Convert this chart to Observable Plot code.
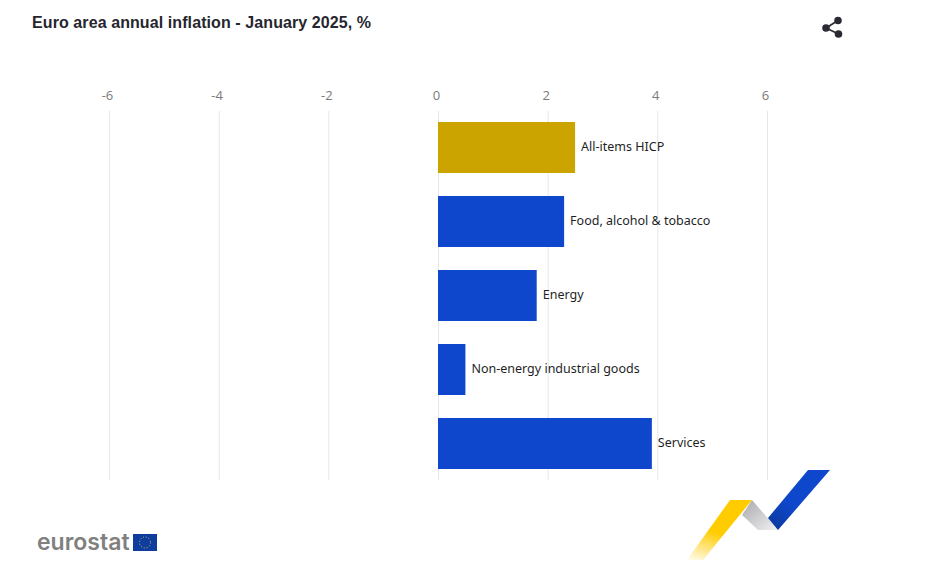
<!DOCTYPE html>
<html>
<head>
<meta charset="utf-8">
<script src="https://cdn.jsdelivr.net/npm/d3@7"></script>
<script src="https://cdn.jsdelivr.net/npm/@observablehq/plot@0.6"></script>
<style>
html,body{margin:0;padding:0;background:#fff;width:941px;height:573px;overflow:hidden}
#wrap{position:relative;width:941px;height:573px}
#title{position:absolute;left:32px;top:14px;font:bold 16px "Liberation Sans",Arial,sans-serif;letter-spacing:0.09px;color:#26262e;white-space:nowrap}
#brand{position:absolute;left:37px;top:528px;font:600 23px Inter,"Liberation Sans",sans-serif;color:#808080;letter-spacing:0px;line-height:28px}
.deco{position:absolute;left:0;top:0}
</style>
</head>
<body>
<div id="wrap">
<div id="chart"></div>
<div id="title">Euro area annual inflation - January 2025, %</div>
<svg class="deco" width="941" height="573" aria-hidden="true">
  <defs>
    <linearGradient id="fade" x1="0" y1="1" x2="0.35" y2="0">
      <stop offset="0" stop-color="#ffcc00" stop-opacity="0.05"/>
      <stop offset="0.55" stop-color="#ffcc00"/>
    </linearGradient>
    <linearGradient id="grey" x1="0" y1="0" x2="1" y2="1">
      <stop offset="0" stop-color="#a9a9ad"/>
      <stop offset="1" stop-color="#f1f1f4"/>
    </linearGradient>
    <linearGradient id="blue" x1="0" y1="1" x2="0.6" y2="0.3">
      <stop offset="0" stop-color="#0a3796"/>
      <stop offset="0.6" stop-color="#0e47cb"/>
    </linearGradient>
  </defs>
  <polygon points="687,560 703,560 752,500 730,500" fill="url(#fade)"/>
  <polygon points="752,500 778,530 758,530 742,515" fill="url(#grey)"/>
  <polygon points="808,470 830,470 778,530 768,518" fill="url(#blue)"/>
  <rect x="133" y="534" width="24" height="17" fill="#0f3d9e"/>
  <circle cx="145" cy="542.5" r="5.5" fill="none" stroke="#c9bd5a" stroke-width="1" stroke-dasharray="1 1.9"/>
  <g stroke="#2a2a33" stroke-width="1.6" fill="#2a2a33">
    <line x1="826" y1="28" x2="838" y2="20.5"/>
    <line x1="826" y1="28" x2="838.5" y2="34"/>
    <circle cx="826" cy="28" r="3"/>
    <circle cx="838" cy="20.5" r="3"/>
    <circle cx="838.5" cy="34" r="3"/>
  </g>
</svg>
<div id="brand">eurostat</div>
</div>
<script>
const categories = ["All-items HICP", "Food, alcohol & tobacco", "Energy", "Non-energy industrial goods", "Services"];
const values = [2.5, 2.3, 1.8, 0.5, 3.9];
const groups = ["total", "part", "part", "part", "part"];
const tickValues = [-6, -4, -2, 0, 2, 4, 6];
const rows = categories.map((name, i) => ({name, value: values[i], group: groups[i]}));

const chart = Plot.plot({
  width: 941,
  height: 573,
  marginTop: 111,
  marginBottom: 92,
  marginLeft: 109,
  marginRight: 174,
  style: {background: "transparent", overflow: "visible"},
  x: {domain: [-6, 6], axis: null},
  y: {domain: categories, paddingInner: 0.31, paddingOuter: 0.155, align: 0.5, axis: null},
  color: {domain: ["total", "part"], range: ["#cca400", "#0e47cb"]},
  marks: [
    Plot.ruleX(tickValues, {x: d => d, stroke: "#e6e6ea", strokeWidth: 1, insetBottom: 1}),
    Plot.axisX(tickValues, {
      anchor: "top",
      tickSize: 0,
      tickPadding: 12,
      dx: -2,
      label: null,
      tickFormat: d => d < 0 ? "-" + Math.abs(d) : String(d),
      fill: "#7a7a7a",
      fontSize: 13,
      fontFamily: "'Open Sans',sans-serif"
    }),
    Plot.barX(rows, {y: "name", x1: 0, x2: "value", fill: "group"}),
    Plot.text(rows, {
      y: "name", x: "value", text: "name",
      textAnchor: "start", dx: 5.5, dy: -1,
      fill: "#1f1f1f", fontSize: 12.5,
      fontFamily: "'Noto Sans',sans-serif"
    })
  ]
});
document.getElementById("chart").appendChild(chart);
</script>
</body>
</html>
